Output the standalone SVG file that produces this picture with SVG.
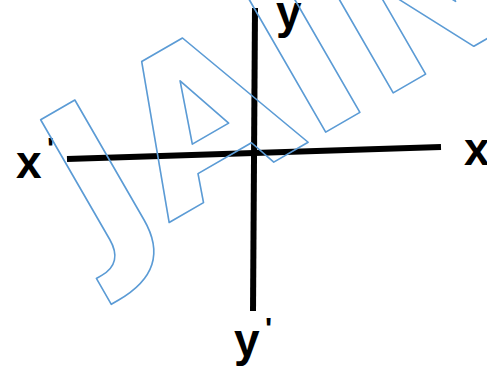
<svg xmlns="http://www.w3.org/2000/svg" width="487" height="377" viewBox="0 0 487 377">
  <style>
    .axis { stroke: #000; stroke-width: 6; fill: none; stroke-linecap: butt; }
    .lbl { font-family: "Liberation Sans", Arial, sans-serif; font-weight: bold; font-size: 46px; fill: #000; }
    .prime { font-size: 30px; }
    .wm { font-family: "DejaVu Sans", "Liberation Sans", sans-serif; font-weight: bold; font-size: 210px; fill: none; stroke: #5b9bd5; stroke-width: 1.6; stroke-linejoin: round; }
  </style>
  <rect width="487" height="377" fill="#fff"/>
  <g id="connectors">
    <line class="axis" x1="67" y1="159" x2="441" y2="147"/>
    <line class="axis" x1="255" y1="8" x2="253" y2="311"/>
  </g>
  <g id="label-x-prime"><text class="lbl" x="16" y="178">x<tspan class="prime" x="47" y="158">'</tspan></text></g>
  <g id="label-x"><text class="lbl" x="464" y="165">x</text></g>
  <g id="label-y"><text class="lbl" x="276" y="28">y</text></g>
  <g id="label-y-prime"><text class="lbl" x="234" y="356">y<tspan class="prime" x="265" y="338">'</tspan></text></g>
  <g id="watermark">
    <text class="wm" transform="translate(100.5,262) rotate(-30)">JAIN</text>
  </g>
</svg>
